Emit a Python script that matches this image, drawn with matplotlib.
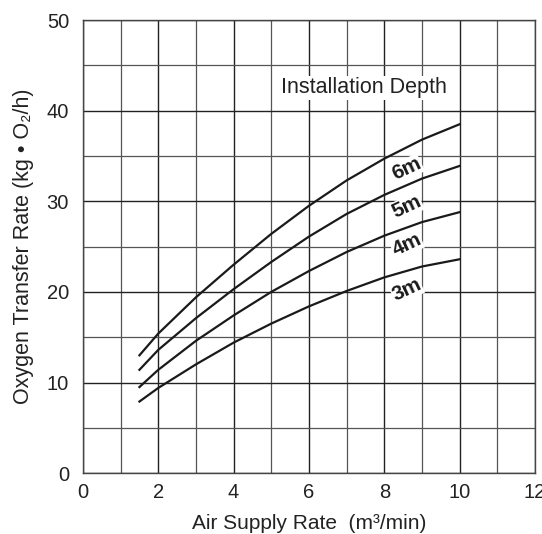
import numpy as np
import matplotlib.pyplot as plt
from matplotlib.ticker import MultipleLocator

plt.rcParams['font.family'] = ['Liberation Sans', 'DejaVu Sans']

# air supply rate (m3/min)
air = [1.5, 2, 3, 4, 5, 6, 7, 8, 9, 10]

# oxygen transfer rate (kg O2/h) per installation depth
depth_6m = [13.0, 15.4, 19.4, 23.0, 26.4, 29.5, 32.3, 34.7, 36.8, 38.5]
depth_5m = [11.4, 13.6, 17.1, 20.3, 23.3, 26.1, 28.6, 30.7, 32.5, 33.9]
depth_4m = [9.5, 11.4, 14.6, 17.4, 20.0, 22.3, 24.4, 26.2, 27.7, 28.8]
depth_3m = [7.9, 9.4, 12.0, 14.4, 16.5, 18.4, 20.1, 21.6, 22.8, 23.6]

curves = [('6m', depth_6m), ('5m', depth_5m), ('4m', depth_4m), ('3m', depth_3m)]
label_pos = {'6m': (8.6, 33.6), '5m': (8.6, 29.4), '4m': (8.6, 25.2), '3m': (8.6, 20.2)}

fig = plt.figure(figsize=(5.42, 5.34), dpi=100)
ax = fig.add_axes([0.153, 0.114, 0.834, 0.8485])

ax.set_xlim(0, 12)
ax.set_ylim(0, 50)
ax.xaxis.set_major_locator(MultipleLocator(2))
ax.xaxis.set_minor_locator(MultipleLocator(1))
ax.yaxis.set_major_locator(MultipleLocator(10))
ax.yaxis.set_minor_locator(MultipleLocator(5))
ax.grid(which='major', color='#222222', linewidth=1.0)
ax.grid(which='minor', color='#555555', linewidth=0.9)
ax.tick_params(which='both', length=0, labelsize=14.5, colors='#222222')
ax.tick_params(axis='x', pad=7)
ax.tick_params(axis='y', pad=10)
for s in ax.spines.values():
    s.set_color('#444444')
    s.set_linewidth(1.0)

for name, vals in curves:
    ax.plot(air, vals, color='#1a1a1a', linewidth=1.6, zorder=3)
    lx, ly = label_pos[name]
    ax.text(lx, ly, name, fontsize=15, fontweight='bold', rotation=25,
            ha='center', va='center', color='#1a1a1a', zorder=4,
            bbox=dict(facecolor='white', edgecolor='none', pad=0.3))

ax.text(7.45, 42.5, 'Installation Depth', fontsize=15.5, ha='center', va='center',
        color='#222222', zorder=4,
        bbox=dict(facecolor='white', edgecolor='none', pad=1.0))

ax.set_xlabel('Air Supply Rate  (m\u00b3/min)', fontsize=15, color='#222222', labelpad=9)
ax.set_ylabel('Oxygen Transfer Rate (kg \u2022 O\u2082/h)', fontsize=15.5, color='#222222', labelpad=9)

plt.savefig('out.png', dpi=100)
